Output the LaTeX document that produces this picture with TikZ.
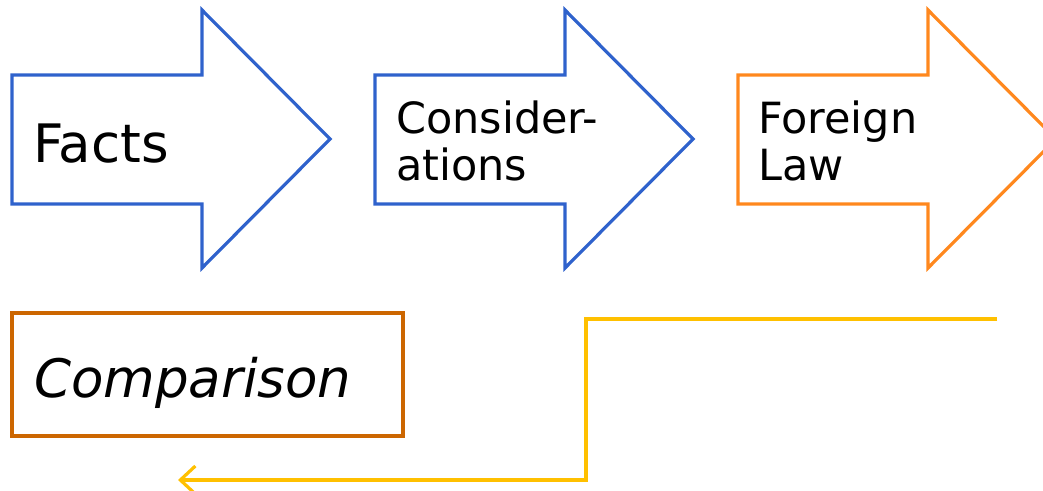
\documentclass[tikz,border=0pt]{standalone}
\usepackage{fontspec}
\setmainfont{DejaVu Sans}
\usetikzlibrary{arrows.meta}
\definecolor{bluec}{RGB}{47,98,204}
\definecolor{orangec}{RGB}{255,136,30}
\definecolor{darkor}{RGB}{204,102,0}
\definecolor{yellowc}{RGB}{255,192,0}
\begin{document}
\begin{tikzpicture}[x=1pt,y=-1pt,
  bigarrow/.style={line width=3.2pt,line join=miter},
  lbl/.style={anchor=base west,inner sep=0pt,font=\fontsize{43}{47}\selectfont,align=left},
  biglbl/.style={anchor=base west,inner sep=0pt,font=\fontsize{53}{60}\selectfont}]
\useasboundingbox (0,0) rectangle (1043,490);
\begin{scope}
\clip (0,0) rectangle (1043,490);
\foreach \x/\c in {12/bluec,375/bluec,738/orangec}{
  \draw[bigarrow,draw=\c] (\x,75) -- (\x+190,75) -- (\x+190,10) -- (\x+318,139)
     -- (\x+190,268) -- (\x+190,204) -- (\x,204) -- cycle;
}
\end{scope}
\node[biglbl] (facts) at (33,162) {Facts};
\node[lbl] (cons) at (396,180) {Consider-\\ations};
\node[lbl] (law) at (758,180) {Foreign\\Law};
\draw[line width=3.2pt,draw=darkor] (12,313) rectangle (403,436);
\node[biglbl,font=\fontsize{53}{60}\selectfont\itshape] (comp) at (34,397) {Comparison};
\coordinate (ys) at (997,319);
\coordinate (ye) at (178,480);
\draw[line width=3.2pt,draw=yellowc,-{Straight Barb[length=15pt,width=28pt,line width=3.2pt]}]
  (ys) -- (586,319) -- (586,480) -- (ye);
\end{tikzpicture}
\end{document}
